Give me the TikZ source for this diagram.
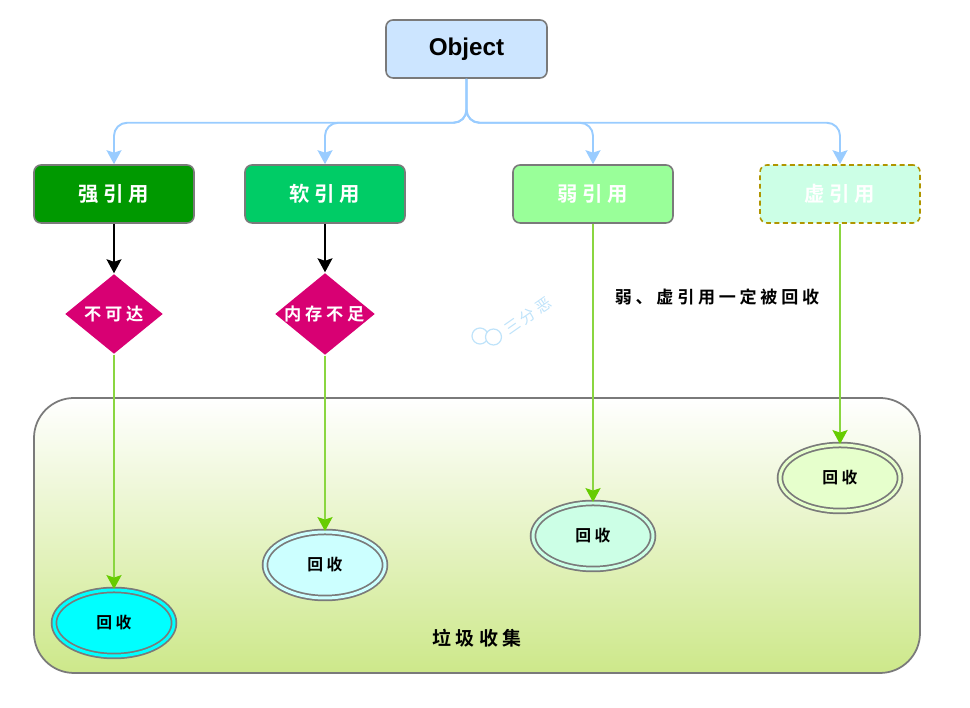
\documentclass[tikz,border=0pt]{standalone}
\usepackage{fontspec}
\usepackage{xcolor}
\usetikzlibrary{arrows.meta,shapes.geometric}
\setmainfont{Liberation Sans}
\newfontfamily\cjk[LetterSpace=22,BoldFont={Noto Sans CJK SC Bold}]{Noto Sans CJK SC}
\definecolor{objfill}{HTML}{CCE5FF}
\definecolor{bluearrow}{HTML}{99CCFF}
\definecolor{greenarrow}{HTML}{8AD640}
\definecolor{greentip}{HTML}{66CC00}
\definecolor{rosefill}{HTML}{D80073}
\definecolor{goldline}{HTML}{B09500}
\definecolor{bordergray}{HTML}{7A7A7A}
\definecolor{binbottom}{HTML}{CDE88A}
\definecolor{markblue}{HTML}{BFE3FA}
\definecolor{strongfill}{HTML}{009900}
\definecolor{softfill}{HTML}{00CC66}
\definecolor{weakfill}{HTML}{99FF99}
\definecolor{phantomfill}{HTML}{CCFFE6}
\definecolor{gcstrongfill}{HTML}{00FFFF}
\definecolor{gcsoftfill}{HTML}{CCFFFF}
\definecolor{gcphantomfill}{HTML}{E6FFCC}
\tikzset{
	refbox/.style={draw=bordergray,line width=0.45pt,rounded corners=0.07cm,minimum width=1.6cm,minimum height=0.58cm,inner sep=0pt,text=white,font=\cjk\bfseries\fontsize{5.8}{7}\selectfont},
	gate/.style={diamond,aspect=1.22,fill=rosefill,minimum width=0.98cm,minimum height=0.8cm,inner sep=0pt,text=white,font=\cjk\bfseries\fontsize{4.9}{6}\selectfont},
	reclaim/.style={ellipse,draw=bordergray,line width=0.5pt,double=#1,double distance=0.85pt,fill=#1,minimum width=1.2cm,minimum height=0.66cm,inner sep=0pt,font=\cjk\bfseries\fontsize{4.5}{6}\selectfont},
	bluelink/.style={draw=bluearrow,line width=0.55pt,rounded corners=0.13cm,-{Stealth[inset=0.25mm,length=0.14cm,width=0.15cm]}},
	blacklink/.style={draw=black,line width=0.4pt,-{Stealth[inset=0.25mm,length=0.14cm,width=0.15cm]}},
	greenlink/.style={draw=greenarrow,line width=0.6pt,-{Stealth[inset=0.25mm,length=0.14cm,width=0.15cm,color=greentip]}},
}
\begin{document}
\begin{tikzpicture}
		\useasboundingbox (0,0) rectangle (9.7,7.08);
		\node[draw=bordergray,line width=0.5pt,rounded corners=0.4cm,top color=white,bottom color=binbottom,minimum width=8.86cm,minimum height=2.75cm] (bin) at (4.77,1.725) {};
		\node[draw=bordergray,line width=0.45pt,rounded corners=0.07cm,fill=objfill,minimum width=1.61cm,minimum height=0.58cm,font=\bfseries\fontsize{6.9}{8}\selectfont] (object) at (4.665,6.59) {Object};
		\node[refbox,fill=strongfill] (strong) at (1.14,5.14) {强引用};
		\node[refbox,fill=softfill] (soft) at (3.25,5.14) {软引用};
		\node[refbox,fill=weakfill] (weak) at (5.93,5.14) {弱引用};
		\node[refbox,fill=phantomfill,draw=goldline,dash pattern=on 1.4pt off 1pt] (phantom) at (8.40,5.14) {虚引用};
		\node[gate] (reach) at (1.14,3.94) {不可达};
		\node[gate] (memory) at (3.25,3.94) {内存不足};
		\node[reclaim=gcstrongfill] (gcstrong) at (1.14,0.85) {回收};
		\node[reclaim=gcsoftfill] (gcsoft) at (3.25,1.43) {回收};
		\node[reclaim=phantomfill] (gcweak) at (5.93,1.72) {回收};
		\node[reclaim=gcphantomfill] (gcphantom) at (8.40,2.30) {回收};
		\node[font=\cjk\bfseries\fontsize{4.85}{6}\selectfont] (note) at (7.17,4.11) {弱、虚引用一定被回收};
		\node[font=\cjk\bfseries\fontsize{5.4}{6}\selectfont] (binlabel) at (4.77,0.70) {垃圾收集};
		\node[text=markblue,rotate=35,font=\cjk\fontsize{4.4}{5}\selectfont] (mark) at (5.28,3.92) {三分恶};
		\foreach \t in {strong,soft,weak,phantom}
		\draw[bluelink] (object.south) -- ++(0,-0.44) -| (\t.north);
		\draw[blacklink] (strong) -- (reach);
		\draw[blacklink] (soft) -- (memory);
		\draw[greenlink] (reach) -- (gcstrong);
		\draw[greenlink] (memory) -- (gcsoft);
		\draw[greenlink] (weak) -- (gcweak);
		\draw[greenlink] (phantom) -- (gcphantom);
		\draw[markblue,line width=0.35pt] (4.80,3.72) circle (0.08);
		\draw[markblue,line width=0.35pt,fill=white] (4.935,3.71) circle (0.08);
		\end{tikzpicture}
\end{document}
